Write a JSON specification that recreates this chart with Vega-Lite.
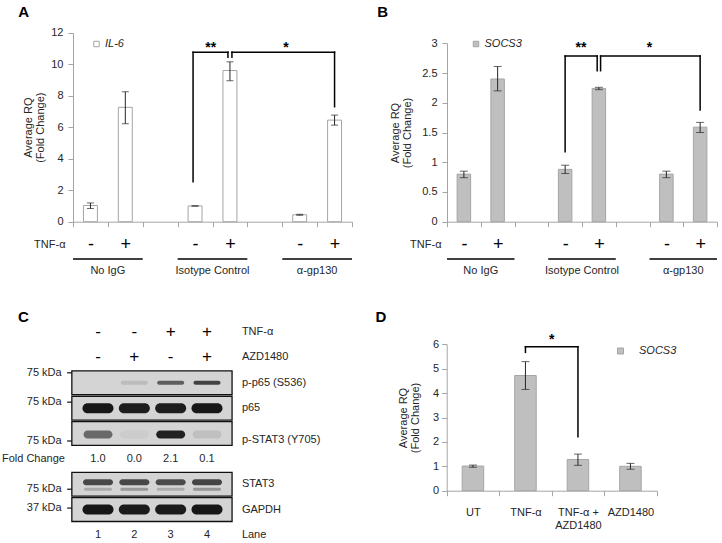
{
  "$schema": "https://vega.github.io/schema/vega-lite/v6.json",
  "width": 722,
  "height": 543,
  "autosize": {"type": "none"},
  "padding": 0,
  "background": "#ffffff",
  "config": {
    "font": "Liberation Sans",
    "view": {"stroke": null},
    "axis": {"grid": false, "domainColor": "#a5a5a5", "tickColor": "#a5a5a5", "labelColor": "#262626", "titleColor": "#262626", "labelFont": "Liberation Sans", "titleFont": "Liberation Sans", "labelFontSize": 11, "titleFontSize": 11, "titleFontWeight": "normal", "tickSize": 5, "titleLineHeight": 12},
    "text": {"font": "Liberation Sans", "fontSize": 11, "color": "#262626"},
    "legend": {"labelFont": "Liberation Sans"}
  },
  "datasets": {
    "bands": [
      {"blot": "p-p65  (S536)", "lane": 2, "intensity": 0.12},
      {"blot": "p-p65  (S536)", "lane": 3, "intensity": 0.6},
      {"blot": "p-p65  (S536)", "lane": 4, "intensity": 0.75},
      {"blot": "p65", "lane": 1, "intensity": 0.97},
      {"blot": "p65", "lane": 2, "intensity": 0.94},
      {"blot": "p65", "lane": 3, "intensity": 0.94},
      {"blot": "p65", "lane": 4, "intensity": 0.97},
      {"blot": "p-STAT3  (Y705)", "lane": 1, "intensity": 0.55},
      {"blot": "p-STAT3  (Y705)", "lane": 2, "intensity": 0.04},
      {"blot": "p-STAT3  (Y705)", "lane": 3, "intensity": 0.92},
      {"blot": "p-STAT3  (Y705)", "lane": 4, "intensity": 0.1},
      {"blot": "STAT3", "lane": 1, "intensity": 0.72},
      {"blot": "STAT3", "lane": 2, "intensity": 0.72},
      {"blot": "STAT3", "lane": 3, "intensity": 0.7},
      {"blot": "STAT3", "lane": 4, "intensity": 0.74},
      {"blot": "GAPDH", "lane": 1, "intensity": 0.97},
      {"blot": "GAPDH", "lane": 2, "intensity": 0.95},
      {"blot": "GAPDH", "lane": 3, "intensity": 0.95},
      {"blot": "GAPDH", "lane": 4, "intensity": 0.97}
    ],
    "stat3lower": [
      {"blot": "STAT3", "lane": 1, "intensity": 0.22},
      {"blot": "STAT3", "lane": 2, "intensity": 0.3},
      {"blot": "STAT3", "lane": 3, "intensity": 0.2},
      {"blot": "STAT3", "lane": 4, "intensity": 0.32}
    ],
    "groups": [
      {"group": "No IgG", "first": "No IgG -", "second": "No IgG +"},
      {"group": "Isotype Control", "first": "Isotype Control -", "second": "Isotype Control +"},
      {"group": "α-gp130", "first": "α-gp130 -", "second": "α-gp130 +"}
    ]
  },
  "resolve": {
    "scale": {"x": "independent", "y": "independent", "fill": "independent", "opacity": "independent"},
    "axis": {"x": "independent", "y": "independent"},
    "legend": {"fill": "independent"}
  },
  "layer": [
    {
      "data": {"values": [
        {"condition": "No IgG -", "gene": "IL-6", "rq": 1.03, "lo": 0.84, "hi": 1.19},
        {"condition": "No IgG +", "gene": "IL-6", "rq": 7.26, "lo": 6.22, "hi": 8.25},
        {"condition": "Isotype Control -", "gene": "IL-6", "rq": 1.0, "lo": 0.99, "hi": 1.01},
        {"condition": "Isotype Control +", "gene": "IL-6", "rq": 9.6, "lo": 8.95, "hi": 10.15},
        {"condition": "α-gp130 -", "gene": "IL-6", "rq": 0.44, "lo": 0.41, "hi": 0.47},
        {"condition": "α-gp130 +", "gene": "IL-6", "rq": 6.45, "lo": 6.13, "hi": 6.77}
      ]},
      "layer": [
        {
          "mark": {"type": "bar", "width": {"band": 0.4}, "stroke": "#a5a5a5", "strokeWidth": 1},
          "encoding": {
            "x": {"field": "condition", "type": "nominal", "title": "TNF-α",
              "scale": {"domain": ["No IgG -", "No IgG +", " ", "Isotype Control -", "Isotype Control +", "  ", "α-gp130 -", "α-gp130 +"], "range": [73, 352], "paddingInner": 0, "paddingOuter": 0},
              "axis": {"orient": "bottom", "offset": -321.3, "title": "TNF-α", "titleX": 65, "titleY": 23, "titleAlign": "right", "titleBaseline": "middle", "titleAngle": 0, "labelExpr": "slice(datum.label, -1)", "labelAngle": 0, "labelFontSize": 18, "labelColor": "#000000", "labelPadding": 18, "labelBaseline": "middle", "tickBand": "extent", "tickSize": 5}},
            "y": {"field": "rq", "type": "quantitative", "title": ["Average  RQ", "(Fold Change)"],
              "scale": {"domain": [0, 12], "range": [221.7, 32.7], "nice": false, "zero": false},
              "axis": {"orient": "left", "offset": -73, "values": [0, 2, 4, 6, 8, 10, 12], "title": ["Average  RQ", "(Fold Change)"], "titlePadding": 5, "labelPadding": 5}},
            "y2": {"datum": 0},
            "fill": {"field": "gene", "type": "nominal", "scale": {"range": ["#ffffff"]},
              "legend": {"orient": "none", "legendX": 91, "legendY": 38.5, "title": null, "symbolType": "square", "symbolSize": 30, "symbolStrokeColor": "#a5a5a5", "symbolStrokeWidth": 1, "labelFontSize": 11, "labelFontStyle": "italic", "labelColor": "#262626", "labelOffset": 3, "padding": 0}}
          }
        },
        {
          "mark": {"type": "errorbar", "ticks": {"size": 7, "color": "#262626"}, "rule": {"color": "#262626"}},
          "encoding": {
            "x": {"field": "condition", "type": "nominal", "title": "TNF-α"},
            "y": {"field": "lo", "type": "quantitative", "title": ["Average  RQ", "(Fold Change)"]},
            "y2": {"field": "hi"}
          }
        },
        {
          "data": {"name": "groups"},
          "layer": [
            {"mark": {"type": "rule", "xOffset": -17.4, "x2Offset": 17.4, "color": "#000000", "strokeWidth": 1.5},
             "encoding": {"x": {"field": "first", "type": "nominal", "title": "TNF-α"}, "x2": {"field": "second"}, "y": {"datum": -2.37}}},
            {"mark": {"type": "text", "dx": 17.4, "baseline": "middle", "fontSize": 11},
             "encoding": {"x": {"field": "first", "type": "nominal", "title": "TNF-α"}, "y": {"datum": -3.14}, "text": {"field": "group"}}}
          ]
        },
        {
          "data": {"values": [{}]},
          "layer": [
            {"mark": {"type": "rule", "xOffset": -2, "color": "#000000", "strokeWidth": 1.5, "strokeCap": "square"},
             "encoding": {"x": {"datum": "Isotype Control -"}, "y": {"datum": 2.54}, "y2": {"datum": 10.76}}},
            {"mark": {"type": "rule", "xOffset": -2, "x2Offset": -2, "color": "#000000", "strokeWidth": 1.5, "strokeCap": "square"},
             "encoding": {"x": {"datum": "Isotype Control -"}, "x2": {"datum": "Isotype Control +"}, "y": {"datum": 10.76}}},
            {"mark": {"type": "rule", "xOffset": -2, "color": "#000000", "strokeWidth": 1.5, "strokeCap": "square"},
             "encoding": {"x": {"datum": "Isotype Control +"}, "y": {"datum": 10.44}, "y2": {"datum": 10.76}}},
            {"mark": {"type": "rule", "xOffset": 2, "color": "#000000", "strokeWidth": 1.5, "strokeCap": "square"},
             "encoding": {"x": {"datum": "Isotype Control +"}, "y": {"datum": 10.44}, "y2": {"datum": 10.76}}},
            {"mark": {"type": "rule", "xOffset": 2, "color": "#000000", "strokeWidth": 1.5, "strokeCap": "square"},
             "encoding": {"x": {"datum": "Isotype Control +"}, "x2": {"datum": "α-gp130 +"}, "y": {"datum": 10.76}}},
            {"mark": {"type": "rule", "color": "#000000", "strokeWidth": 1.5, "strokeCap": "square"},
             "encoding": {"x": {"datum": "α-gp130 +"}, "y": {"datum": 7.3}, "y2": {"datum": 10.76}}},
            {"mark": {"type": "text", "dx": 15.6, "fontSize": 14, "fontWeight": "bold", "color": "#000000", "baseline": "alphabetic"},
             "encoding": {"x": {"datum": "Isotype Control -"}, "y": {"datum": 10.76}, "text": {"value": "**"}}},
            {"mark": {"type": "text", "dx": -13.7, "fontSize": 14, "fontWeight": "bold", "color": "#000000", "baseline": "alphabetic"},
             "encoding": {"x": {"datum": "α-gp130 -"}, "y": {"datum": 10.76}, "text": {"value": "*"}}},
            {"mark": {"type": "text", "dx": -66.7, "fontSize": 15, "fontWeight": "bold", "color": "#000000", "baseline": "middle"},
             "encoding": {"x": {"datum": "No IgG -"}, "y": {"datum": 13.33}, "text": {"value": "A"}}}
          ]
        }
      ]
    },
    {
      "data": {"values": [
        {"condition2": "No IgG -", "gene2": "SOCS3", "rq2": 0.8, "lo2": 0.74, "hi2": 0.85},
        {"condition2": "No IgG +", "gene2": "SOCS3", "rq2": 2.4, "lo2": 2.2, "hi2": 2.61},
        {"condition2": "Isotype Control -", "gene2": "SOCS3", "rq2": 0.88, "lo2": 0.81, "hi2": 0.95},
        {"condition2": "Isotype Control +", "gene2": "SOCS3", "rq2": 2.24, "lo2": 2.22, "hi2": 2.26},
        {"condition2": "α-gp130 -", "gene2": "SOCS3", "rq2": 0.8, "lo2": 0.74, "hi2": 0.85},
        {"condition2": "α-gp130 +", "gene2": "SOCS3", "rq2": 1.59, "lo2": 1.5, "hi2": 1.67}
      ]},
      "layer": [
        {
          "mark": {"type": "bar", "width": {"band": 0.4}, "stroke": "#a5a5a5", "strokeWidth": 1},
          "encoding": {
            "x": {"field": "condition2", "type": "nominal", "title": "TNF-α",
              "scale": {"domain": ["No IgG -", "No IgG +", " ", "Isotype Control -", "Isotype Control +", "  ", "α-gp130 -", "α-gp130 +"], "range": [447, 717], "paddingInner": 0, "paddingOuter": 0},
              "axis": {"orient": "bottom", "offset": -321.3, "title": "TNF-α", "titleX": 441, "titleY": 23, "titleAlign": "right", "titleBaseline": "middle", "titleAngle": 0, "labelExpr": "slice(datum.label, -1)", "labelAngle": 0, "labelFontSize": 18, "labelColor": "#000000", "labelPadding": 18, "labelBaseline": "middle", "tickBand": "extent", "tickSize": 5}},
            "y": {"field": "rq2", "type": "quantitative", "title": ["Average  RQ", "(Fold Change)"],
              "scale": {"domain": [0, 3], "range": [221.7, 43.3], "nice": false, "zero": false},
              "axis": {"orient": "left", "offset": -447, "values": [0, 0.5, 1, 1.5, 2, 2.5, 3], "format": "~g", "title": ["Average  RQ", "(Fold Change)"], "titlePadding": 9, "labelPadding": 5}},
            "y2": {"datum": 0},
            "fill": {"field": "gene2", "type": "nominal", "scale": {"range": ["#bfbfbf"]},
              "legend": {"orient": "none", "legendX": 470.5, "legendY": 38.5, "title": null, "symbolType": "square", "symbolSize": 30, "symbolStrokeColor": "#a5a5a5", "symbolStrokeWidth": 1, "labelFontSize": 11, "labelFontStyle": "italic", "labelColor": "#262626", "labelOffset": 3, "padding": 0}}
          }
        },
        {
          "mark": {"type": "errorbar", "ticks": {"size": 8, "color": "#262626"}, "rule": {"color": "#262626"}},
          "encoding": {
            "x": {"field": "condition2", "type": "nominal", "title": "TNF-α"},
            "y": {"field": "lo2", "type": "quantitative", "title": ["Average  RQ", "(Fold Change)"]},
            "y2": {"field": "hi2"}
          }
        },
        {
          "data": {"name": "groups"},
          "layer": [
            {"mark": {"type": "rule", "xOffset": -16.9, "x2Offset": 16.9, "color": "#000000", "strokeWidth": 1.5},
             "encoding": {"x": {"field": "first", "type": "nominal", "title": "TNF-α"}, "x2": {"field": "second"}, "y": {"datum": -0.627}}},
            {"mark": {"type": "text", "dx": 16.9, "baseline": "middle", "fontSize": 11},
             "encoding": {"x": {"field": "first", "type": "nominal", "title": "TNF-α"}, "y": {"datum": -0.83}, "text": {"field": "group"}}}
          ]
        },
        {
          "data": {"values": [{}]},
          "layer": [
            {"mark": {"type": "rule", "color": "#000000", "strokeWidth": 1.5, "strokeCap": "square"},
             "encoding": {"x": {"datum": "Isotype Control -"}, "y": {"datum": 1.177}, "y2": {"datum": 2.786}}},
            {"mark": {"type": "rule", "x2Offset": -1.7, "color": "#000000", "strokeWidth": 1.5, "strokeCap": "square"},
             "encoding": {"x": {"datum": "Isotype Control -"}, "x2": {"datum": "Isotype Control +"}, "y": {"datum": 2.786}}},
            {"mark": {"type": "rule", "xOffset": -1.7, "color": "#000000", "strokeWidth": 1.5, "strokeCap": "square"},
             "encoding": {"x": {"datum": "Isotype Control +"}, "y": {"datum": 2.539}, "y2": {"datum": 2.786}}},
            {"mark": {"type": "rule", "xOffset": 1.7, "color": "#000000", "strokeWidth": 1.5, "strokeCap": "square"},
             "encoding": {"x": {"datum": "Isotype Control +"}, "y": {"datum": 2.539}, "y2": {"datum": 2.786}}},
            {"mark": {"type": "rule", "xOffset": 1.7, "color": "#000000", "strokeWidth": 1.5, "strokeCap": "square"},
             "encoding": {"x": {"datum": "Isotype Control +"}, "x2": {"datum": "α-gp130 +"}, "y": {"datum": 2.786}}},
            {"mark": {"type": "rule", "color": "#000000", "strokeWidth": 1.5, "strokeCap": "square"},
             "encoding": {"x": {"datum": "α-gp130 +"}, "y": {"datum": 1.878}, "y2": {"datum": 2.786}}},
            {"mark": {"type": "text", "dx": 15.9, "fontSize": 14, "fontWeight": "bold", "color": "#000000", "baseline": "alphabetic"},
             "encoding": {"x": {"datum": "Isotype Control -"}, "y": {"datum": 2.854}, "text": {"value": "**"}}},
            {"mark": {"type": "text", "dx": -17, "fontSize": 14, "fontWeight": "bold", "color": "#000000", "baseline": "alphabetic"},
             "encoding": {"x": {"datum": "α-gp130 -"}, "y": {"datum": 2.854}, "text": {"value": "*"}}},
            {"mark": {"type": "text", "dx": -81.2, "fontSize": 15, "fontWeight": "bold", "color": "#000000", "baseline": "middle"},
             "encoding": {"x": {"datum": "No IgG -"}, "y": {"datum": 3.526}, "text": {"value": "B"}}}
          ]
        }
      ]
    },
    {
      "layer": [
        {
          "data": {"values": [{"blot": "p-p65  (S536)"}, {"blot": "p65"}, {"blot": "p-STAT3  (Y705)"}, {"blot": "STAT3"}, {"blot": "GAPDH"}]},
          "mark": {"type": "rect", "fill": "#d4d4d4", "stroke": "#111111", "strokeWidth": 1.3},
          "encoding": {
            "y": {"field": "blot", "type": "nominal",
              "scale": {"domain": ["TNF-α", "AZD1480", "p-p65  (S536)", "p65", "p-STAT3  (Y705)", "Fold Change", "STAT3", "GAPDH", "Lane"], "range": [319.4, 547.6], "paddingInner": 0.06, "paddingOuter": 0.03},
              "axis": null},
            "x": {"datum": 0.28, "type": "quantitative", "scale": {"domain": [1, 4], "range": [98, 207], "nice": false, "zero": false}, "axis": null},
            "x2": {"datum": 4.69}
          }
        },
        {
          "data": {"name": "bands"},
          "transform": [{"filter": {"field": "blot", "oneOf": ["p65", "GAPDH"]}}],
          "mark": {"type": "tick", "orient": "horizontal", "size": 31, "thickness": 10, "cornerRadius": 5, "color": "#111111"},
          "encoding": {
            "x": {"field": "lane", "type": "quantitative", "axis": null},
            "y": {"field": "blot", "type": "nominal", "axis": null},
            "opacity": {"field": "intensity", "type": "quantitative", "scale": {"domain": [0, 1], "range": [0, 1]}, "legend": null}
          }
        },
        {
          "data": {"name": "bands"},
          "transform": [{"filter": {"field": "blot", "equal": "p-STAT3  (Y705)"}}],
          "mark": {"type": "tick", "orient": "horizontal", "size": 29, "thickness": 8, "cornerRadius": 4, "color": "#111111", "yOffset": 1},
          "encoding": {
            "x": {"field": "lane", "type": "quantitative", "axis": null},
            "y": {"field": "blot", "type": "nominal", "axis": null},
            "opacity": {"field": "intensity", "type": "quantitative", "legend": null}
          }
        },
        {
          "data": {"name": "bands"},
          "transform": [{"filter": {"field": "blot", "equal": "p-p65  (S536)"}}],
          "mark": {"type": "tick", "orient": "horizontal", "size": 27, "thickness": 4, "cornerRadius": 2, "color": "#111111"},
          "encoding": {
            "x": {"field": "lane", "type": "quantitative", "axis": null},
            "y": {"field": "blot", "type": "nominal", "axis": null},
            "opacity": {"field": "intensity", "type": "quantitative", "legend": null}
          }
        },
        {
          "data": {"name": "bands"},
          "transform": [{"filter": {"field": "blot", "equal": "STAT3"}}],
          "mark": {"type": "tick", "orient": "horizontal", "size": 30, "thickness": 6, "cornerRadius": 3, "color": "#111111", "yOffset": -2},
          "encoding": {
            "x": {"field": "lane", "type": "quantitative", "axis": null},
            "y": {"field": "blot", "type": "nominal", "axis": null},
            "opacity": {"field": "intensity", "type": "quantitative", "legend": null}
          }
        },
        {
          "data": {"name": "stat3lower"},
          "mark": {"type": "tick", "orient": "horizontal", "size": 28, "thickness": 3, "cornerRadius": 1.5, "color": "#111111", "yOffset": 5},
          "encoding": {
            "x": {"field": "lane", "type": "quantitative", "axis": null},
            "y": {"field": "blot", "type": "nominal", "axis": null},
            "opacity": {"field": "intensity", "type": "quantitative", "legend": null}
          }
        },
        {
          "data": {"values": [
            {"label": "TNF-α"}, {"label": "AZD1480"}, {"label": "p-p65  (S536)"}, {"label": "p65"},
            {"label": "STAT3"}, {"label": "GAPDH"}, {"label": "Lane"}
          ]},
          "mark": {"type": "text", "align": "left", "baseline": "middle", "fontSize": 11},
          "encoding": {
            "x": {"datum": 4.96, "axis": null},
            "y": {"field": "label", "type": "nominal", "axis": null},
            "text": {"field": "label"}
          }
        },
        {
          "data": {"values": [{"label": "p-STAT3  (Y705)"}]},
          "mark": {"type": "text", "align": "left", "baseline": "middle", "fontSize": 11, "yOffset": 6},
          "encoding": {
            "x": {"datum": 4.96, "axis": null},
            "y": {"field": "label", "type": "nominal", "axis": null},
            "text": {"field": "label"}
          }
        },
        {
          "data": {"values": [
            {"row": "TNF-α", "lane": 1, "sign": "-"}, {"row": "TNF-α", "lane": 2, "sign": "-"},
            {"row": "TNF-α", "lane": 3, "sign": "+"}, {"row": "TNF-α", "lane": 4, "sign": "+"},
            {"row": "AZD1480", "lane": 1, "sign": "-"}, {"row": "AZD1480", "lane": 2, "sign": "+"},
            {"row": "AZD1480", "lane": 3, "sign": "-"}, {"row": "AZD1480", "lane": 4, "sign": "+"}
          ]},
          "mark": {"type": "text", "align": "center", "baseline": "middle", "fontSize": 17, "color": "#000000"},
          "encoding": {
            "x": {"field": "lane", "type": "quantitative", "axis": null},
            "y": {"field": "row", "type": "nominal", "axis": null},
            "text": {"field": "sign"}
          }
        },
        {
          "data": {"values": [
            {"row": "Fold Change", "lane": 1, "value": "1.0"}, {"row": "Fold Change", "lane": 2, "value": "0.0"},
            {"row": "Fold Change", "lane": 3, "value": "2.1"}, {"row": "Fold Change", "lane": 4, "value": "0.1"},
            {"row": "Lane", "lane": 1, "value": "1"}, {"row": "Lane", "lane": 2, "value": "2"},
            {"row": "Lane", "lane": 3, "value": "3"}, {"row": "Lane", "lane": 4, "value": "4"}
          ]},
          "mark": {"type": "text", "align": "center", "baseline": "middle", "fontSize": 11},
          "encoding": {
            "x": {"field": "lane", "type": "quantitative", "axis": null},
            "y": {"field": "row", "type": "nominal", "axis": null},
            "text": {"field": "value"}
          }
        },
        {
          "data": {"values": [{"row": "Fold Change"}]},
          "mark": {"type": "text", "align": "right", "baseline": "middle", "fontSize": 11},
          "encoding": {
            "x": {"datum": 0.09, "axis": null},
            "y": {"field": "row", "type": "nominal", "axis": null},
            "text": {"field": "row"}
          }
        },
        {
          "data": {"values": [{"blot": "p-p65  (S536)", "marker": "75 kDa"}]},
          "layer": [
            {"mark": {"type": "text", "align": "right", "baseline": "middle", "fontSize": 11, "yOffset": -10},
             "encoding": {"x": {"datum": 0, "axis": null}, "y": {"field": "blot", "type": "nominal", "axis": null}, "text": {"field": "marker"}}},
            {"mark": {"type": "rule", "yOffset": -10, "color": "#111111", "strokeWidth": 1.2},
             "encoding": {"x": {"datum": 0.15, "axis": null}, "x2": {"datum": 0.28}, "y": {"field": "blot", "type": "nominal", "axis": null}}}
          ]
        },
        {
          "data": {"values": [{"blot": "p65", "marker": "75 kDa"}]},
          "layer": [
            {"mark": {"type": "text", "align": "right", "baseline": "middle", "fontSize": 11, "yOffset": -6},
             "encoding": {"x": {"datum": 0, "axis": null}, "y": {"field": "blot", "type": "nominal", "axis": null}, "text": {"field": "marker"}}},
            {"mark": {"type": "rule", "yOffset": -6, "color": "#111111", "strokeWidth": 1.2},
             "encoding": {"x": {"datum": 0.15, "axis": null}, "x2": {"datum": 0.28}, "y": {"field": "blot", "type": "nominal", "axis": null}}}
          ]
        },
        {
          "data": {"values": [{"blot": "p-STAT3  (Y705)", "marker": "75 kDa"}]},
          "layer": [
            {"mark": {"type": "text", "align": "right", "baseline": "middle", "fontSize": 11, "yOffset": 7.5},
             "encoding": {"x": {"datum": 0, "axis": null}, "y": {"field": "blot", "type": "nominal", "axis": null}, "text": {"field": "marker"}}},
            {"mark": {"type": "rule", "yOffset": 7.5, "color": "#111111", "strokeWidth": 1.2},
             "encoding": {"x": {"datum": 0.15, "axis": null}, "x2": {"datum": 0.28}, "y": {"field": "blot", "type": "nominal", "axis": null}}}
          ]
        },
        {
          "data": {"values": [{"blot": "STAT3", "marker": "75 kDa"}]},
          "layer": [
            {"mark": {"type": "text", "align": "right", "baseline": "middle", "fontSize": 11, "yOffset": 5},
             "encoding": {"x": {"datum": 0, "axis": null}, "y": {"field": "blot", "type": "nominal", "axis": null}, "text": {"field": "marker"}}},
            {"mark": {"type": "rule", "yOffset": 5, "color": "#111111", "strokeWidth": 1.2},
             "encoding": {"x": {"datum": 0.15, "axis": null}, "x2": {"datum": 0.28}, "y": {"field": "blot", "type": "nominal", "axis": null}}}
          ]
        },
        {
          "data": {"values": [{"blot": "GAPDH", "marker": "37 kDa"}]},
          "layer": [
            {"mark": {"type": "text", "align": "right", "baseline": "middle", "fontSize": 11, "yOffset": -1.5},
             "encoding": {"x": {"datum": 0, "axis": null}, "y": {"field": "blot", "type": "nominal", "axis": null}, "text": {"field": "marker"}}},
            {"mark": {"type": "rule", "yOffset": -1.5, "color": "#111111", "strokeWidth": 1.2},
             "encoding": {"x": {"datum": 0.15, "axis": null}, "x2": {"datum": 0.28}, "y": {"field": "blot", "type": "nominal", "axis": null}}}
          ]
        },
        {
          "data": {"values": [{"row": "TNF-α"}]},
          "mark": {"type": "text", "align": "center", "baseline": "middle", "fontSize": 15, "fontWeight": "bold", "color": "#000000", "dy": -15.4},
          "encoding": {
            "x": {"datum": -1.056, "axis": null},
            "y": {"field": "row", "type": "nominal", "axis": null},
            "text": {"value": "C"}
          }
        }
      ]
    },
    {
      "data": {"values": [
        {"treatment": "UT", "gene4": "SOCS3", "rq4": 1.01, "lo4": 0.96, "hi4": 1.05},
        {"treatment": "TNF-α", "gene4": "SOCS3", "rq4": 4.72, "lo4": 4.15, "hi4": 5.29},
        {"treatment": "TNF-α + AZD1480", "gene4": "SOCS3", "rq4": 1.28, "lo4": 1.04, "hi4": 1.5},
        {"treatment": "AZD1480", "gene4": "SOCS3", "rq4": 1.0, "lo4": 0.88, "hi4": 1.12}
      ]},
      "layer": [
        {
          "mark": {"type": "bar", "width": {"band": 0.41}, "stroke": "#a5a5a5", "strokeWidth": 1},
          "encoding": {
            "x": {"field": "treatment", "type": "nominal", "title": null,
              "scale": {"domain": ["UT", "TNF-α", "TNF-α + AZD1480", "AZD1480"], "range": [446.7, 656.7], "paddingInner": 0, "paddingOuter": 0},
              "axis": {"orient": "bottom", "offset": -52.3, "title": null, "labelAngle": 0, "labelFontSize": 11, "labelPadding": 11, "labelLineHeight": 13, "labelExpr": "datum.label == 'TNF-α + AZD1480' ? ['TNF-α +', 'AZD1480'] : datum.label", "tickBand": "extent", "tickSize": 5}},
            "y": {"field": "rq4", "type": "quantitative", "title": ["Average  RQ", "(Fold Change)"],
              "scale": {"domain": [0, 6], "range": [490.7, 344.3], "nice": false, "zero": false},
              "axis": {"orient": "left", "offset": -446.7, "values": [0, 1, 2, 3, 4, 5, 6], "format": "d", "title": ["Average  RQ", "(Fold Change)"], "titlePadding": 12, "labelPadding": 3}},
            "y2": {"datum": 0},
            "fill": {"field": "gene4", "type": "nominal", "scale": {"range": ["#bfbfbf"]},
              "legend": {"orient": "none", "legendX": 615, "legendY": 345.5, "title": null, "symbolType": "square", "symbolSize": 36, "symbolStrokeColor": "#a5a5a5", "symbolStrokeWidth": 1, "labelFontSize": 11, "labelFontStyle": "italic", "labelColor": "#262626", "labelOffset": 13, "padding": 0}}
          }
        },
        {
          "mark": {"type": "errorbar", "ticks": {"size": 8, "color": "#262626"}, "rule": {"color": "#262626"}},
          "encoding": {
            "x": {"field": "treatment", "type": "nominal", "title": null},
            "y": {"field": "lo4", "type": "quantitative", "title": ["Average  RQ", "(Fold Change)"]},
            "y2": {"field": "hi4"}
          }
        },
        {
          "data": {"values": [{}]},
          "layer": [
            {"mark": {"type": "rule", "color": "#000000", "strokeWidth": 1.5, "strokeCap": "square"},
             "encoding": {"x": {"datum": "TNF-α"}, "y": {"datum": 5.67}, "y2": {"datum": 5.9}}},
            {"mark": {"type": "rule", "color": "#000000", "strokeWidth": 1.5, "strokeCap": "square"},
             "encoding": {"x": {"datum": "TNF-α"}, "x2": {"datum": "TNF-α + AZD1480"}, "y": {"datum": 5.9}}},
            {"mark": {"type": "rule", "color": "#000000", "strokeWidth": 1.5, "strokeCap": "square"},
             "encoding": {"x": {"datum": "TNF-α + AZD1480"}, "y": {"datum": 2.21}, "y2": {"datum": 5.9}}},
            {"mark": {"type": "text", "dx": 26.25, "fontSize": 14, "fontWeight": "bold", "color": "#000000", "baseline": "alphabetic"},
             "encoding": {"x": {"datum": "TNF-α"}, "y": {"datum": 6.02}, "text": {"value": "*"}}},
            {"mark": {"type": "text", "dx": -92, "fontSize": 15, "fontWeight": "bold", "color": "#000000", "baseline": "middle"},
             "encoding": {"x": {"datum": "UT"}, "y": {"datum": 7.13}, "text": {"value": "D"}}}
          ]
        }
      ]
    }
  ]
}
